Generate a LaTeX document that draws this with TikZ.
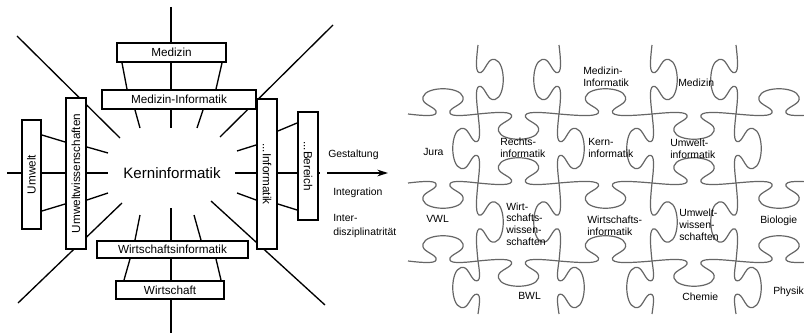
\documentclass[tikz,border=0pt]{standalone}
\usepackage{fontspec}
\setmainfont{Liberation Sans}
\usetikzlibrary{calc,arrows.meta}
% one puzzle edge from (#1,#2) to (#3,#4), knob to side #5
\def\jigedge(#1,#2)(#3,#4)(#5){%
  \pgfmathsetmacro\jL{veclen(#3-#1,#4-#2)}%
  \pgfmathsetmacro\jux{(#3-#1)/\jL}%
  \pgfmathsetmacro\juy{(#4-#2)/\jL}%
  \pgfmathsetmacro\jmx{(#1+#3)/2}%
  \pgfmathsetmacro\jmy{(#2+#4)/2}%
  \def\jp##1##2{({\jmx+(##1)*(\jux)-(#5)*(##2)*(\juy)},{\jmy+(##1)*(\juy)+(#5)*(##2)*(\jux)})}%
  \edef\jigpath{\jp{-\jL/2}{0} .. controls \jp{-\jL/4}{-2} and \jp{-5}{-3} .. \jp{-7}{3}
    .. controls \jp{-10}{8} and \jp{-22}{10} .. \jp{-20}{17}
    .. controls \jp{-17}{28} and \jp{17}{28} .. \jp{20}{17}
    .. controls \jp{22}{10} and \jp{10}{8} .. \jp{7}{3}
    .. controls \jp{5}{-3} and \jp{\jL/4}{-2} .. \jp{\jL/2}{0}}%
  \draw[jig] \jigpath;}

\begin{document}
\begin{tikzpicture}[x=0.75pt, y=-0.75pt,
	box/.style={draw, fill=white, line width=1.4pt, inner sep=0pt, font=\fontsize{8.8}{10}\selectfont},
	ray/.style={line width=1pt},
	jig/.style={draw=black!60, line width=0.9pt},
	plab/.style={anchor=west, align=left, inner sep=0pt, font=\fontsize{7.8}{8.8}\selectfont},
	alab/.style={anchor=west, align=left, inner sep=0pt, font=\fontsize{7.8}{10.5}\selectfont}]
			%%%%% START %%%%%
			\useasboundingbox (0,0) rectangle (804,335);
			
			% long rays behind the boxes
			\draw[ray] (171,7) -- (171,128);
			\draw[ray] (171,208) -- (171,333);
			\draw[ray] (7,173) -- (108,173);
			\draw[ray] (235,173) -- (320,173);
			\draw[ray] (17,36) -- (120,138);
			\draw[ray] (333,25) -- (220,137);
			\draw[ray] (18,303) -- (122,203);
			\draw[ray] (325,305) -- (211,201);
			
			\node[box, minimum width=81.75pt, minimum height=14.25pt] (med) at (171.5,52.5) {Medizin};
			\node[box, minimum width=115.5pt, minimum height=14.25pt] (medinf) at (179,99.5) {Medizin-Informatik};
			\node[box, minimum width=113.25pt, minimum height=12.75pt] (wiinf) at (172.5,249.5) {Wirtschaftsinformatik};
			\node[box, minimum width=81pt, minimum height=13.5pt] (wirt) at (170,290) {Wirtschaft};
			\node[box, rotate=90, minimum width=81.75pt, minimum height=14.25pt] (umw) at (31.5,174.5) {Umwelt};
			\node[box, rotate=90, minimum width=113.25pt, minimum height=15pt] (umwiss) at (76,173.5) {Umweltwissenschaften};
			\node[box, rotate=-90, minimum width=112.5pt, minimum height=15pt] (xinf) at (267,174) {...Informatik};
			\node[box, rotate=-90, minimum width=81pt, minimum height=15pt] (xber) at (308,166) {...Bereich};
			
			\node[font=\fontsize{11.3}{13}\selectfont] (kern) at (172,173) {Kerninformatik};
			
			\draw[ray] ($(med.south)+(-49.5,0)$) -- ($(medinf.north)+(-52,0)$);
			\draw[ray] ($(med.south)+(50.5,0)$) -- ($(medinf.north)+(37,0)$);
			\draw[ray] ($(medinf.south)+(-44,0)$) -- (140,128);
			\draw[ray] ($(medinf.south)+(24,0)$) -- (197,128);
			
			\draw[ray] ($(wiinf.north)+(-37.5,0)$) -- (140,215);
			\draw[ray] ($(wiinf.north)+(28.5,0)$) -- (194,215);
			\draw[ray] ($(wiinf.south)+(-42.5,0)$) -- ($(wirt.north)+(-46,0)$);
			\draw[ray] ($(wiinf.south)+(43.5,0)$) -- ($(wirt.north)+(51,0)$);
			
			\draw[ray] ($(umw.south)+(0,-39.5)$) -- ($(umwiss.north)+(0,-31.5)$);
			\draw[ray] ($(umw.south)+(0,36.5)$) -- ($(umwiss.north)+(0,30.5)$);
			\draw[ray] ($(umwiss.south)+(0,-26.5)$) -- (108,153);
			\draw[ray] ($(umwiss.south)+(0,26.5)$) -- (108,193);
			
			\draw[ray] ($(xinf.south)+(0,-29)$) -- (237,151);
			\draw[ray] ($(xinf.south)+(0,26)$) -- (237,193);
			\draw[ray] ($(xinf.north)+(0,-43)$) -- ($(xber.south)+(0,-43)$);
			\draw[ray] ($(xinf.north)+(0,30)$) -- ($(xber.south)+(0,44)$);
			
			\coordinate (arrs) at (327,173);
			\coordinate (arre) at (388,173);
			\draw[line width=1pt, -{Stealth[length=8pt,width=5pt]}] (arrs) -- (arre);
			\node[alab] (gest) at (328,155) {Gestaltung};
			\node[alab] (integ) at (333,193) {Integration};
			\node[alab] (inter) at (333,226) {Inter-\\disziplinatrität};
			
			% puzzle, row lines
			\jigedge(408,114)(478,114)(-1)
			\jigedge(478,114)(559,114)(1)
			\jigedge(559,114)(652,114)(-1)
			\jigedge(652,114)(736,114)(1)
			\jigedge(736,114)(822,114)(-1)
			\jigedge(408,183)(478,183)(1)
			\jigedge(478,183)(559,183)(-1)
			\jigedge(559,183)(652,183)(1)
			\jigedge(652,183)(736,183)(-1)
			\jigedge(736,183)(822,183)(1)
			\jigedge(408,261)(478,261)(-1)
			\jigedge(478,261)(559,261)(1)
			\jigedge(559,261)(652,261)(-1)
			\jigedge(652,261)(736,261)(1)
			\jigedge(736,261)(822,261)(-1)
			% puzzle, column lines
			\jigedge(478,45)(478,114)(-1)
			\jigedge(478,114)(478,183)(1)
			\jigedge(478,183)(478,261)(-1)
			\jigedge(478,261)(478,314)(1)
			\jigedge(559,45)(559,114)(1)
			\jigedge(559,114)(559,183)(-1)
			\jigedge(559,183)(559,261)(1)
			\jigedge(559,261)(559,314)(-1)
			\jigedge(652,45)(652,114)(-1)
			\jigedge(652,114)(652,183)(1)
			\jigedge(652,183)(652,261)(-1)
			\jigedge(652,261)(652,314)(1)
			\jigedge(736,45)(736,114)(1)
			\jigedge(736,114)(736,183)(-1)
			\jigedge(736,183)(736,261)(1)
			\jigedge(736,261)(736,314)(-1)
			
			\node[plab] (pmedinf) at (583,77) {Medizin-\\Informatik};
			\node[plab] (pmed) at (678,83) {Medizin};
			\node[plab] (pjura) at (423,152) {Jura};
			\node[plab] (prechts) at (500,148) {Rechts-\\informatik};
			\node[plab] (pkern) at (588,148) {Kern-\\informatik};
			\node[plab] (pumwinf) at (670,149) {Umwelt-\\informatik};
			\node[plab] (pvwl) at (426,219) {VWL};
			\node[plab] (pwiwi) at (506,224) {Wirt-\\schafts-\\wissen-\\schaften};
			\node[plab] (pwiinf) at (587,226) {Wirtschafts-\\informatik};
			\node[plab] (pumwiss) at (679,225) {Umwelt-\\wissen-\\schaften};
			\node[plab] (pbio) at (760,221) {Biologie};
			\node[plab] (pbwl) at (518,296) {BWL};
			\node[plab] (pchem) at (682,297) {Chemie};
			\node[plab] (pphys) at (773,292) {Physik};
			%%%%% END %%%%%
\end{tikzpicture}
\end{document}
